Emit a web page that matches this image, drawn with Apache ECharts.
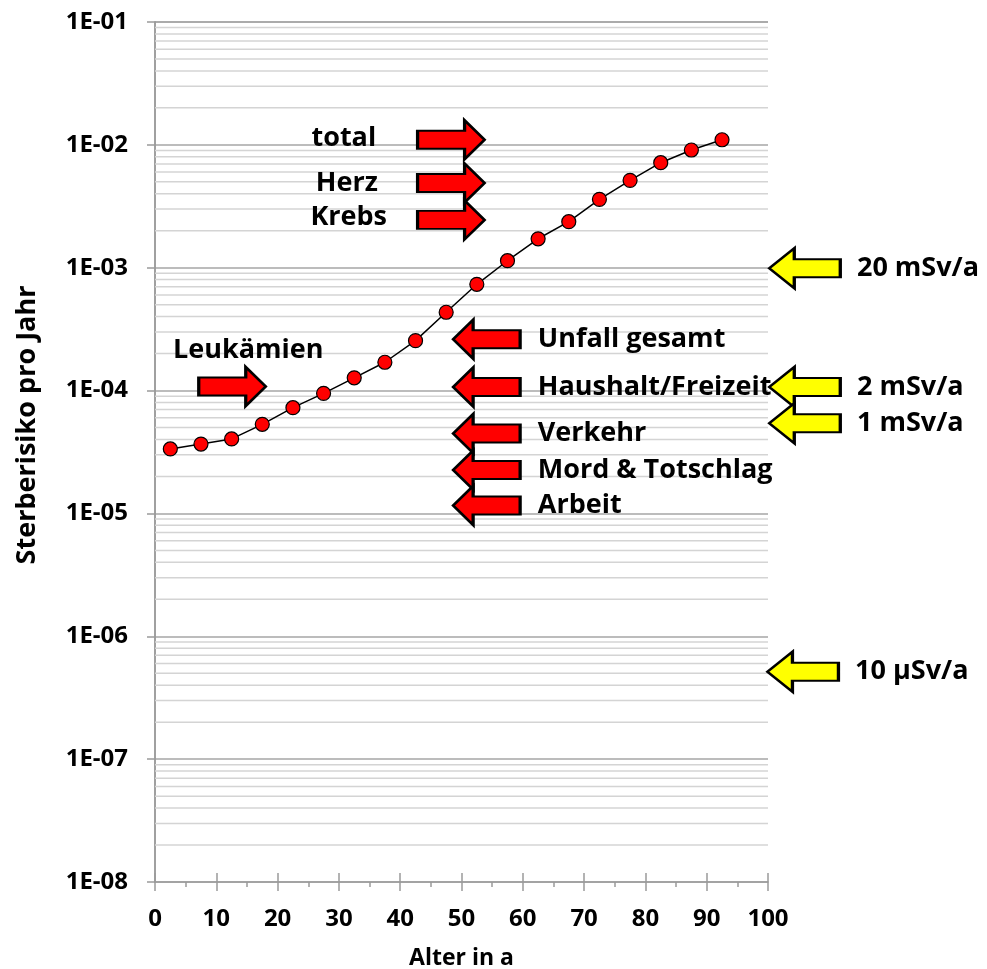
<!DOCTYPE html>
<html>
<head>
<meta charset="utf-8">
<script src="https://cdn.jsdelivr.net/npm/echarts@6/dist/echarts.min.js"></script>
<style>
html,body{margin:0;padding:0;background:#fff;}
#chart{width:987px;height:969px;}
</style>
</head>
<body>
<div id="chart"></div>
<script>
// ---- data ----
const ages = [2.5, 7.5, 12.5, 17.5, 22.5, 27.5, 32.5, 37.5, 42.5, 47.5, 52.5, 57.5, 62.5, 67.5, 72.5, 77.5, 82.5, 87.5, 92.5];
const risk = [3.35e-5, 3.67e-5, 4.04e-5, 5.31e-5, 7.26e-5, 9.49e-5, 1.27e-4, 1.70e-4, 2.55e-4, 4.34e-4, 7.33e-4, 1.14e-3, 1.72e-3, 2.37e-3, 3.60e-3, 5.14e-3, 7.16e-3, 9.08e-3, 1.10e-2];
const xTicks = [0, 10, 20, 30, 40, 50, 60, 70, 80, 90, 100];
const yTickLabels = ['1E-08', '1E-07', '1E-06', '1E-05', '1E-04', '1E-03', '1E-02', '1E-01'];
const minorMultipliers = [2, 3, 4, 5, 6, 7, 8, 9];

// red arrows pointing right: [label, x, risk]
const rightArrows = [['total', 48.3, 1.10e-2], ['Herz', 48.3, 4.89e-3], ['Krebs', 48.3, 2.45e-3], ['Leukämien', 12.6, 1.08e-4]];
// red arrows pointing left (label to the right)
const leftArrows = [['Unfall gesamt', 54.1, 2.62e-4], ['Haushalt/Freizeit', 54.1, 1.07e-4], ['Verkehr', 54.1, 4.47e-5], ['Mord & Totschlag', 54.1, 2.26e-5], ['Arbeit', 54.1, 1.16e-5]];
// yellow dose arrows (outside plot, right)
const doseArrows = [['20 mSv/a', 106.0, 9.9e-4], ['2 mSv/a', 106.0, 1.07e-4], ['1 mSv/a', 106.0, 5.42e-5], ['10 µSv/a', 105.7, 5.15e-7]];
// free text labels for right-pointing arrows: [text, x, risk]
const rightArrowTexts = [['total', 30.8, 1.12e-2], ['Herz', 31.3, 4.89e-3], ['Krebs', 31.6, 2.55e-3], ['Leukämien', 15.2, 2.14e-4]];

// ---- build ----
const FONT = '"Open Sans", sans-serif';
const minorLines = [];
for (let e = -8; e <= -2; e++) {
  minorMultipliers.forEach(m => minorLines.push(m * Math.pow(10, e)));
}
const rightPath = 'path://M0,10.5 L47,10.5 L47,0 L67,19.5 L47,39 L47,28.5 L0,28.5 Z';
const leftPath = 'path://M67,10.5 L20,10.5 L20,0 L0,19.5 L20,39 L20,28.5 L67,28.5 Z';
const yellowPath = 'path://M71,11 L25,11 L25,0 L0,20 L25,40 L25,29 L71,29 Z';

const textStyle = { fontFamily: FONT, fontWeight: 'bold', fontSize: 27, color: '#000' };

const chart = echarts.init(document.getElementById('chart'), null, { renderer: 'canvas' });
chart.setOption({
  animation: false,
  backgroundColor: '#fff',
  grid: { left: 155, right: 219, top: 22, bottom: 87, containLabel: false, outerBoundsMode: 'none' },
  xAxis: [{
    type: 'value', min: xTicks[0], max: xTicks[xTicks.length - 1], interval: 10,
    name: 'Alter in a', nameLocation: 'middle', nameGap: 65,
    nameTextStyle: { fontFamily: FONT, fontWeight: 'bold', fontSize: 23, color: '#000' },
    axisLine: { lineStyle: { color: '#9a9a9a', width: 1.5 } },
    axisTick: { show: true, inside: false, length: 9, lineStyle: { color: '#9a9a9a', width: 1.5 } },
    minorTick: { show: true, splitNumber: 2, length: 5, lineStyle: { color: '#9a9a9a', width: 1.5 } },
    axisLabel: { margin: 25, fontFamily: FONT, fontWeight: 'bold', fontSize: 24, color: '#000' },
    splitLine: { show: false }
  }, {
    type: 'value', min: 0, max: 100, interval: 10, position: 'bottom',
    axisLine: { show: false },
    axisTick: { show: true, inside: true, length: 9, lineStyle: { color: '#9a9a9a', width: 1.5 } },
    axisLabel: { show: false }, splitLine: { show: false }
  }],
  yAxis: [{
    type: 'log', logBase: 10, min: 1e-8, max: 1e-1,
    name: 'Sterberisiko pro Jahr', nameLocation: 'middle', nameGap: 114, nameRotate: 90,
    nameTextStyle: { fontFamily: FONT, fontWeight: 'bold', fontSize: 27, color: '#000', padding: [0, 0, 0, 54] },
    axisLine: { show: true, lineStyle: { color: '#9a9a9a', width: 1.5 } },
    axisTick: { show: true, inside: false, length: 8, lineStyle: { color: '#9a9a9a', width: 1.5 } },
    axisLabel: {
      margin: 27, fontFamily: FONT, fontWeight: 'bold', fontSize: 24, color: '#000',
      formatter: v => yTickLabels[Math.round(Math.log10(v)) + 8] || ''
    },
    splitLine: { show: true, lineStyle: { color: '#a6a6a6', width: 1.5 } }
  }, {
    type: 'log', logBase: 10, min: 1e-8, max: 1e-1, position: 'right',
    axisLine: { show: true, lineStyle: { color: '#9a9a9a', width: 1.5 } },
    axisTick: { show: false }, axisLabel: { show: false }, splitLine: { show: false }
  }],
  series: [
    {
      type: 'custom', z: 1, silent: true, clip: false,
      data: minorLines.map(v => [0, v]),
      renderItem: (params, api) => {
        const v = api.value(1);
        const p1 = api.coord([xTicks[0], v]);
        const p2 = api.coord([xTicks[xTicks.length - 1], v]);
        return {
          type: 'line', silent: true,
          shape: { x1: p1[0], y1: p1[1], x2: p2[0], y2: p2[1] },
          style: { stroke: '#d4d4d4', lineWidth: 1.5 }
        };
      }
    },
    {
      type: 'line', z: 5,
      data: ages.map((a, i) => [a, risk[i]]),
      lineStyle: { color: '#000', width: 1.5 },
      symbol: 'circle', symbolSize: 14,
      itemStyle: { color: '#ff0000', borderColor: '#000', borderWidth: 1.2 }
    },
    {
      type: 'scatter', z: 6, clip: false, silent: true,
      symbol: rightPath, symbolSize: [67, 39], symbolKeepAspect: false,
      itemStyle: { color: '#ff0000', borderColor: '#000', borderWidth: 2.5, opacity: 1 },
      data: rightArrows.map(d => [d[1], d[2]])
    },
    {
      type: 'scatter', z: 6, clip: false, silent: true,
      symbol: leftPath, symbolSize: [67, 39], symbolKeepAspect: false,
      itemStyle: { color: '#ff0000', borderColor: '#000', borderWidth: 2.5, opacity: 1 },
      label: { show: true, position: 'right', distance: 16, formatter: p => leftArrows[p.dataIndex][0], ...textStyle },
      data: leftArrows.map(d => [d[1], d[2]])
    },
    {
      type: 'scatter', z: 6, clip: false, silent: true,
      symbol: yellowPath, symbolSize: [71, 40], symbolKeepAspect: false,
      itemStyle: { color: '#ffff00', borderColor: '#000', borderWidth: 2.5, opacity: 1 },
      label: { show: true, position: 'right', distance: 15, formatter: p => doseArrows[p.dataIndex][0], ...textStyle },
      data: doseArrows.map(d => [d[1], d[2]])
    },
    {
      type: 'scatter', z: 7, clip: false, silent: true,
      symbolSize: 0, itemStyle: { opacity: 1 },
      label: { show: true, position: 'inside', formatter: p => rightArrowTexts[p.dataIndex][0], ...textStyle },
      data: rightArrowTexts.map(d => [d[1], d[2]])
    }
  ]
});
</script>
</body>
</html>
